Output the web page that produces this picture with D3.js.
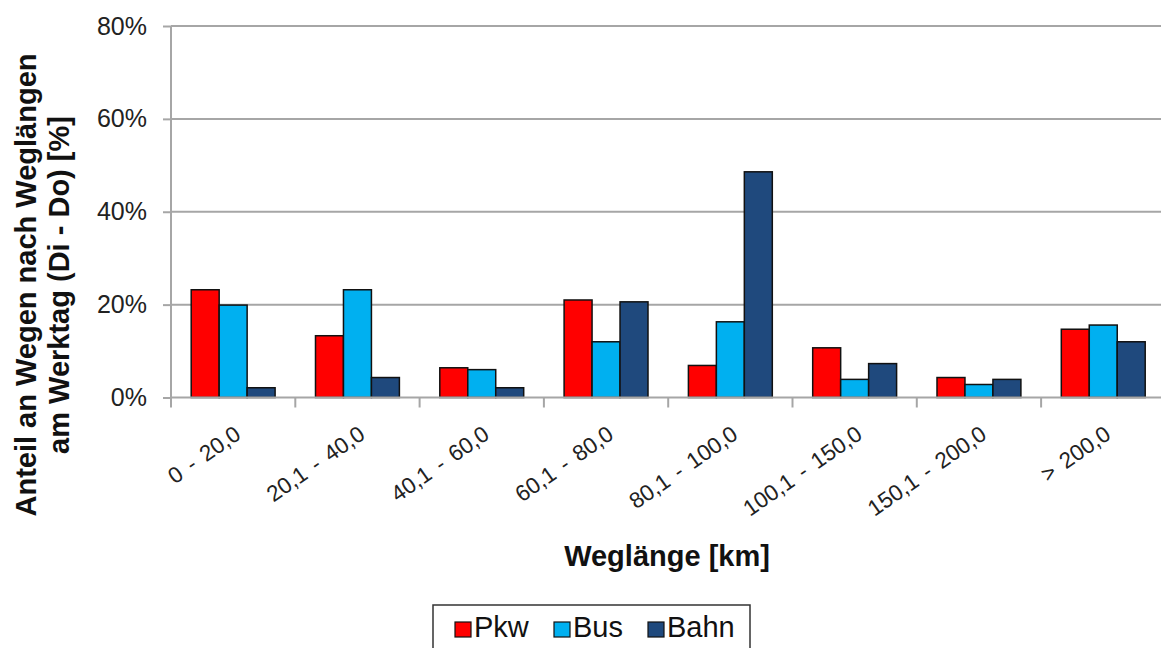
<!DOCTYPE html>
<html>
<head>
<meta charset="utf-8">
<script src="https://cdn.jsdelivr.net/npm/d3@7"></script>
<style>
  html, body { margin: 0; padding: 0; background: #fff; }
  svg { display: block; }
  text { font-family: "Liberation Sans", Arial, sans-serif; }
</style>
</head>
<body>
<svg id="chart" width="1161" height="648"></svg>
<script>
// Weglängenklassen
const categories = ["0 - 20,0", "20,1 - 40,0", "40,1 - 60,0", "60,1 - 80,0",
                    "80,1 - 100,0", "100,1 - 150,0", "150,1 - 200,0", "> 200,0"];
const seriesNames = ["Pkw", "Bus", "Bahn"];
// Anteile in %
const pkw  = [23.2, 13.3, 6.4, 21.0, 6.9, 10.7, 4.3, 14.7];
const bus  = [19.9, 23.2, 6.0, 12.0, 16.3, 3.9, 2.8, 15.6];
const bahn = [2.1, 4.3, 2.1, 20.6, 48.6, 7.3, 3.9, 12.0];
const yTicks = [0, 20, 40, 60, 80];

const colors = { Pkw: "#ff0000", Bus: "#00b0f0", Bahn: "#1f497d" };
const values = { Pkw: pkw, Bus: bus, Bahn: bahn };

const svg = d3.select("#chart");
const plotLeft = 171, plotTop = 26, plotBottom = 397.5;
const bandW = 124.3;
const plotRight = plotLeft + bandW * categories.length;

const x = d3.scaleBand().domain(categories).range([plotLeft, plotRight]).paddingInner(0.325).paddingOuter(0.1625);
const xs = d3.scaleBand().domain(seriesNames).range([0, x.bandwidth()]);
const y = d3.scaleLinear().domain([0, 80]).range([plotBottom, plotTop]);

// Gitterlinien
svg.append("g").selectAll("line").data(yTicks.filter(t => t > 0)).join("line")
  .attr("x1", plotLeft).attr("x2", 1161)
  .attr("y1", d => y(d)).attr("y2", d => y(d))
  .attr("stroke", "#a6a6a6").attr("stroke-width", 2);

// Balken
const groups = svg.append("g").selectAll("g").data(categories).join("g")
  .attr("transform", d => `translate(${x(d)},0)`);
groups.selectAll("rect")
  .data((c, i) => seriesNames.map(s => ({ s, v: values[s][i] })))
  .join("rect")
  .attr("x", d => xs(d.s))
  .attr("y", d => y(d.v))
  .attr("width", xs.bandwidth())
  .attr("height", d => plotBottom - y(d.v))
  .attr("fill", d => colors[d.s])
  .attr("stroke", "#111")
  .attr("stroke-width", 1.5);

// Y-Achse
const yAxis = svg.append("g").attr("transform", `translate(${plotLeft},0)`)
  .call(d3.axisLeft(y).tickValues(yTicks).tickSize(8).tickPadding(16).tickFormat(d => d + "%"));
yAxis.select(".domain").attr("stroke", "#a6a6a6").attr("stroke-width", 2)
  .attr("d", `M0,${plotTop}V${plotBottom + 8}`);
yAxis.selectAll(".tick line").attr("stroke", "#a6a6a6").attr("stroke-width", 2);
yAxis.selectAll(".tick text").attr("font-size", 25).attr("fill", "#222")
  .attr("font-family", "Liberation Sans, Arial, sans-serif");

// X-Achse
const xAxisG = svg.append("g").attr("transform", `translate(0,${plotBottom})`);
xAxisG.append("line").attr("x1", plotLeft).attr("x2", 1161).attr("y1", 0).attr("y2", 0)
  .attr("stroke", "#a6a6a6").attr("stroke-width", 2);
const xTickPos = d3.range(categories.length + 1).map(i => plotLeft + i * bandW);
xAxisG.selectAll("line.tk").data(xTickPos.filter(p => p <= 1161)).join("line").attr("class", "tk")
  .attr("x1", d => d).attr("x2", d => d).attr("y1", 0).attr("y2", 10)
  .attr("stroke", "#a6a6a6").attr("stroke-width", 2);
xAxisG.selectAll("text").data(categories).join("text")
  .attr("transform", d => `translate(${x(d) + x.bandwidth() / 2 + 9},${40}) rotate(-35)`)
  .attr("text-anchor", "end")
  .attr("font-size", 22.5)
  .attr("word-spacing", 3)
  .attr("fill", "#222")
  .text(d => d);

// Achsentitel
svg.append("text")
  .attr("x", 667).attr("y", 566)
  .attr("text-anchor", "middle")
  .attr("font-size", 29).attr("font-weight", "bold").attr("fill", "#111")
  .text("Weglänge [km]");

const yt = svg.append("text")
  .attr("transform", "translate(36,285) rotate(-90)")
  .attr("text-anchor", "middle")
  .attr("font-size", 29).attr("font-weight", "bold").attr("fill", "#111");
yt.append("tspan").attr("x", 0).attr("dy", 0).text("Anteil an Wegen nach Weglängen");
yt.append("tspan").attr("x", 0).attr("dy", 33).text("am Werktag (Di - Do) [%]");

// Legende
const lg = svg.append("g");
lg.append("rect").attr("x", 433).attr("y", 605).attr("width", 317).attr("height", 60)
  .attr("fill", "#fff").attr("stroke", "#333").attr("stroke-width", 1.5);
const legendX = { Pkw: 455, Bus: 554, Bahn: 648 };
const items = lg.selectAll("g.item").data(seriesNames).join("g").attr("class", "item")
  .attr("transform", d => `translate(${legendX[d]},0)`);
items.append("rect").attr("x", 0).attr("y", 622).attr("width", 16).attr("height", 15)
  .attr("fill", d => colors[d]).attr("stroke", "#111").attr("stroke-width", 1.2);
items.append("text").attr("x", 19).attr("y", 637)
  .attr("font-size", 29).attr("fill", "#111").text(d => d);
</script>
</body>
</html>
